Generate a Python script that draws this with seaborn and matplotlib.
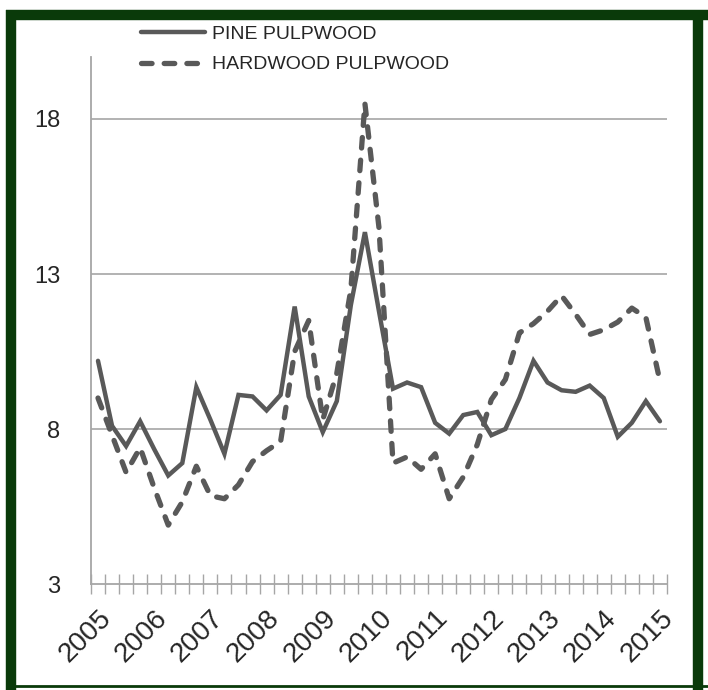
import numpy as np
import pandas as pd
import matplotlib
matplotlib.use("Agg")
import matplotlib.pyplot as plt
import seaborn as sns
from matplotlib.lines import Line2D

# quarterly price series, 2005 Q1 .. 2015 Q1
years = ["2005", "2006", "2007", "2008", "2009", "2010",
         "2011", "2012", "2013", "2014", "2015"]

pine = [10.2, 8.1, 7.45, 8.25, 7.35, 6.5, 6.9, 9.35, 8.3, 7.2,
        9.1, 9.05, 8.6, 9.1, 11.95, 9.05, 7.9, 8.9, 12.0, 14.35,
        11.8, 9.3, 9.5, 9.35, 8.2, 7.85, 8.45, 8.55, 7.8, 8.0,
        9.0, 10.2, 9.5, 9.25, 9.2, 9.4, 9.0, 7.75, 8.2, 8.9, 8.25]

hardwood = [9.0, 7.8, 6.6, 7.4, 6.1, 4.9, 5.65, 6.8, 5.85, 5.75,
            6.2, 6.95, 7.3, 7.6, 10.5, 11.5, 8.3, 9.8, 12.5, 18.5,
            14.5, 6.9, 7.1, 6.7, 7.2, 5.75, 6.45, 7.5, 8.95, 9.6,
            11.1, 11.4, 11.8, 12.3, 11.7, 11.05, 11.2, 11.45, 11.9, 11.6, 9.55]

y_ticks = [3, 8, 13, 18]

n = len(pine)
df = pd.DataFrame({
    "q": list(range(n)) * 2,
    "price": pine + hardwood,
    "series": ["PINE PULPWOOD"] * n + ["HARDWOOD PULPWOOD"] * n,
})

sns.set_style("white")
plt.rcParams["font.family"] = ["Liberation Sans", "DejaVu Sans"]

line_col = "#595959"
grid_col = "#a6a6a6"

fig = plt.figure(figsize=(7.08, 6.9), dpi=100)
ax = fig.add_axes([0.1285, 0.1536, 0.8135, 0.7638])

sns.lineplot(data=df, x="q", y="price", style="series",
             style_order=["PINE PULPWOOD", "HARDWOOD PULPWOOD"],
             dashes={"PINE PULPWOOD": "", "HARDWOOD PULPWOOD": (2, 2.3)},
             color=line_col, linewidth=3.2, ax=ax)

for ln in ax.lines:
    ln.set_solid_joinstyle("miter")
    ln.set_dash_capstyle("round")
    if ln.get_linestyle() != "-":
        ln.set_linewidth(3.8)

ax.set_xlim(-0.5, n - 0.5)
ax.set_ylim(3, 20)
ax.set_yticks(y_ticks)
ax.set_yticklabels([str(v) for v in y_ticks], fontsize=17)
ax.tick_params(axis="y", length=0, pad=22)

# year labels on every 4th quarter, tick marks between quarters
ax.set_xticks(np.arange(0, n, 4))
ax.set_xticklabels(years, fontsize=20, rotation=45, ha="right",
                   rotation_mode="anchor")
ax.set_xticks(np.arange(-0.5, n, 1), minor=True)
ax.tick_params(axis="x", which="major", bottom=False, length=0, pad=15)
ax.tick_params(axis="x", which="minor", bottom=True, direction="inout",
               length=15, width=1, color=grid_col)

ax.set_xlabel("")
ax.set_ylabel("")
for v in y_ticks[1:]:
    ax.axhline(v, color=grid_col, lw=1.2, zorder=0)
for s in ["top", "right"]:
    ax.spines[s].set_visible(False)
for s in ["left", "bottom"]:
    ax.spines[s].set_color(grid_col)
    ax.spines[s].set_linewidth(1.3)

h, l = ax.get_legend_handles_labels()
keep = [(hh, ll) for hh, ll in zip(h, l) if ll in ("PINE PULPWOOD", "HARDWOOD PULPWOOD")]
for hh, ll in keep:
    hh.set_color(line_col)
    hh.set_linewidth(3.8 if ll.startswith("HARD") else 3.2)
    hh.set_dash_capstyle("round")
ax.legend([k[0] for k in keep], [k[1] for k in keep], frameon=False,
          loc="upper left", bbox_to_anchor=(0.185, 0.977),
          bbox_transform=fig.transFigure, fontsize=14, handlelength=3.3,
          handletextpad=0.35, labelspacing=0.65, borderpad=0)

# dark green frame round the picture
frame = "#0a3a0a"
kw = dict(color=frame, transform=fig.transFigure, solid_capstyle="butt")
fig.add_artist(Line2D([0.0155, 0.0155], [0.0, 0.985], lw=7.5, **kw))
fig.add_artist(Line2D([0.008, 1.0], [0.978, 0.978], lw=7.5, **kw))
fig.add_artist(Line2D([0.986, 0.986], [0.0, 0.985], lw=7.5, **kw))
fig.add_artist(Line2D([0.008, 1.0], [0.006, 0.006], lw=2, **kw))

fig.savefig("out.png", dpi=100)
